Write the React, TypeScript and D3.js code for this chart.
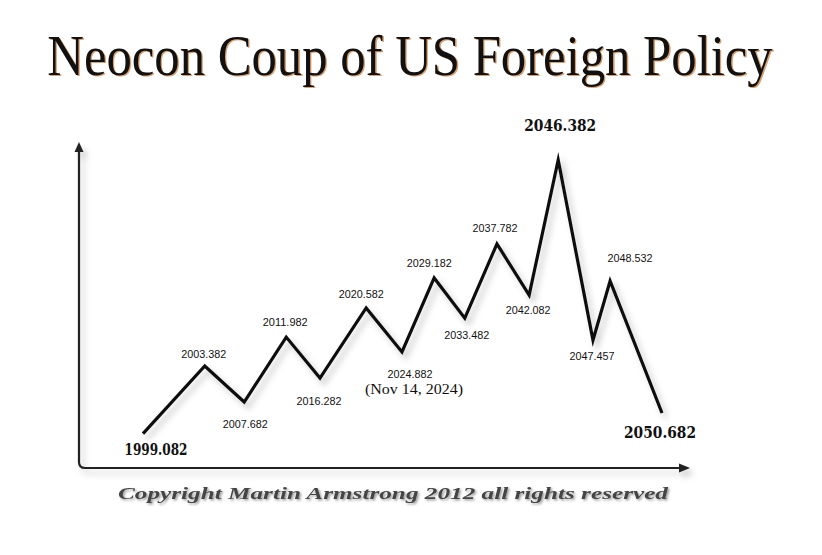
import React from "react";
import * as d3 from "d3";

// Turning points (decimal years), their position along the cycle chart and relative level
const turnLabels = [
  "1999.082", "2003.382", "2007.682", "2011.982", "2016.282", "2020.582", "2024.882",
  "2029.182", "2033.482", "2037.782", "2042.082", "2046.382", "2047.457", "2048.532", "2050.682",
];
const cyclePos = [0, 11.9, 19.5, 27.6, 34.1, 43.0, 49.9, 56.1, 62.0, 68.2, 74.4, 80.0, 86.7, 90.0, 100];
const level = [0.5, 25.1, 12.0, 35.6, 20.7, 46.2, 30.2, 57.1, 42.5, 69.5, 50.9, 100, 34.5, 56.0, 8.0];
const majorLabels = ["1999.082", "2046.382", "2050.682"];
const noteLabel = "(Nov 14, 2024)";
const noteFor = "2024.882";
const titleText = "Neocon Coup of US Foreign Policy";
const copyrightText = "Copyright Martin Armstrong 2012 all rights reserved";

// label offsets (layout only)
const labelOffsets: [number, number][] = [
  [13, 21], [-1, -8], [1, 26], [-1, -11], [-1, 27], [-5, -10], [8, 26],
  [-5, -11], [2, 21], [-2, -12], [-1, 19], [2, -29], [-1, 20], [20, -19], [-2, 25],
];

export default function App() {
  const W = 822, H = 555;
  const x = d3.scaleLinear().domain([0, 100]).range([143, 662]);
  const y = d3.scaleLinear().domain([0, 100]).range([435, 160]);
  const pts = cyclePos.map((c, i) => [x(c), y(level[i])] as [number, number]);
  const line = d3.line().curve(d3.curveLinear)(pts) as string;

  const axX = 79, axTop = 142, axBottom = 468, axRight = 690, r = 6;
  const axisPath = `M${axX},${axTop + 8} L${axX},${axBottom - r} Q${axX},${axBottom} ${axX + r},${axBottom} L${axRight - 8},${axBottom}`;

  return (
    <svg width={W} height={H} style={{ position: "absolute", left: 0, top: 0, background: "#fff" }}>
      <defs>
        <filter id="sh" x="-20%" y="-20%" width="140%" height="140%">
          <feDropShadow dx="4" dy="5" stdDeviation="3" floodColor="#000" floodOpacity="0.22" />
        </filter>
        <filter id="tsh" x="-20%" y="-20%" width="140%" height="140%">
          <feDropShadow dx="1.5" dy="1.5" stdDeviation="0.8" floodColor="#000" floodOpacity="0.4" />
        </filter>
      </defs>
      <rect width={W} height={H} fill="#fff" />
      {/* title */}
      <g transform="translate(410,75) scale(0.89,1)">
        <text x={1.5} y={1} textAnchor="middle" fontFamily="'Liberation Serif', serif" fontSize={57}
          fill="#d9a070">{titleText}</text>
        <text x={0} y={0} textAnchor="middle" fontFamily="'Liberation Serif', serif" fontSize={57}
          fill="#111">{titleText}</text>
      </g>

      {/* axes */}
      <g filter="url(#sh)">
        <path d={axisPath} fill="none" stroke="#222" strokeWidth={2.2} />
        <path d={`M${axX - 4.5},${axTop + 10} L${axX},${axTop} L${axX + 4.5},${axTop + 10} Z`} fill="#222" />
        <path d={`M${axRight - 11},${axBottom - 4.5} L${axRight},${axBottom} L${axRight - 11},${axBottom + 4.5} Z`} fill="#222" />
      </g>

      {/* cycle line */}
      <path d={line} fill="none" stroke="#111" strokeWidth={3.2} strokeLinejoin="miter" strokeMiterlimit={10}
        filter="url(#sh)" />

      {/* labels */}
      {turnLabels.map((lab, i) => {
        const [dx, dy] = labelOffsets[i];
        const px = pts[i][0] + dx, py = pts[i][1] + dy;
        const major = majorLabels.includes(lab);
        return (
          <g key={lab}>
            <text x={px} y={py} textAnchor="middle"
              fontFamily={major ? "'DejaVu Serif', serif" : "'Liberation Sans', Arial, sans-serif"}
              fontWeight={major ? "bold" : "normal"} fontSize={major ? 16 : 11.5}
              textLength={major ? (lab === "1999.082" ? 63 : 72) : 45} lengthAdjust="spacingAndGlyphs"
              fill="#111">{lab}</text>
            {lab === noteFor && (
              <text x={px + 4} y={py + 16} textAnchor="middle" fontFamily="'Liberation Serif', serif"
                fontSize={15} fill="#111" textLength={98} lengthAdjust="spacingAndGlyphs">{noteLabel}</text>
            )}
          </g>
        );
      })}

      {/* copyright */}
      <text x={118} y={499} fontFamily="'Liberation Serif', serif" fontWeight="bold" fontStyle="italic"
        fontSize={17} textLength={550} lengthAdjust="spacingAndGlyphs" fill="#444" filter="url(#tsh)">
        {copyrightText}
      </text>
    </svg>
  );
}
